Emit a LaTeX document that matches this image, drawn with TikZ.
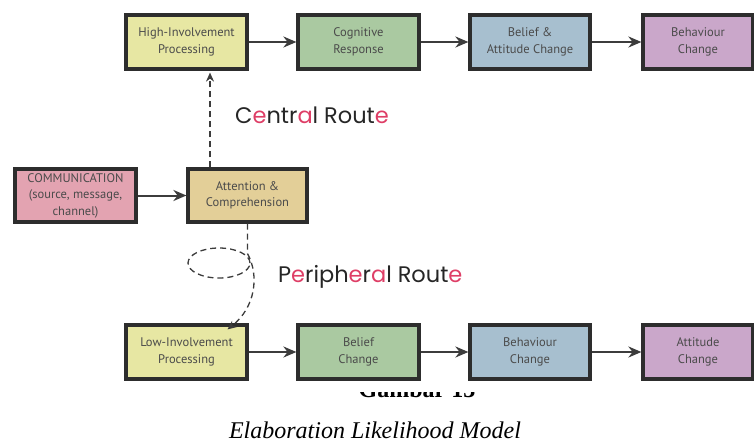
\documentclass[tikz,border=0pt]{standalone}
\usepackage{fontspec}
\setmainfont{PT Sans}
\newfontfamily\routefont{Poppins}
\newfontfamily\capfont{Liberation Serif}
\usetikzlibrary{arrows.meta}
\definecolor{boxline}{RGB}{45,45,45}
\definecolor{linegray}{RGB}{60,60,60}
\definecolor{textgray}{RGB}{75,75,75}
\definecolor{routepink}{RGB}{222,62,102}
\definecolor{hiyellow}{RGB}{231,231,163}
\definecolor{cogreen}{RGB}{170,201,161}
\definecolor{beblue}{RGB}{167,191,207}
\definecolor{bhpurple}{RGB}{202,167,202}
\definecolor{compink}{RGB}{227,163,177}
\definecolor{atttan}{RGB}{227,207,152}
\newcommand{\pk}[1]{\textcolor{routepink}{#1}}
\begin{document}
\begin{tikzpicture}[x=1pt,y=-1pt,>={Stealth[length=13pt,width=11pt]}]
    \tikzstyle{box}=[draw=boxline,line width=3.2pt,minimum width=121pt,minimum height=54pt,align=center,text=textgray,font=\fontsize{12.5}{16.5}\selectfont];
    \tikzstyle{link}=[draw=linegray,line width=2pt,->];
    \tikzstyle{dlink}=[draw=linegray,line width=1.3pt,dash pattern=on 6pt off 4pt,->,>={Stealth[length=9pt,width=8pt]}];
    \useasboundingbox (0,0) rectangle (754,445);

    % central route
    \node at (186.5, 42)  (hip) [box,fill=hiyellow] {High-Involvement\\Processing};
    \node at (358.5, 42)  (cog) [box,fill=cogreen] {Cognitive\\Response};
    \node at (530, 42)    (bac) [box,fill=beblue,minimum width=120pt] {Belief \&\\Attitude Change};
    \node at (698, 42)    (bhc) [box,fill=bhpurple,minimum width=110pt] {Behaviour\\Change};
    \draw[link] (hip) to (cog);
    \draw[link] (cog) to (bac);
    \draw[link] (bac) to (bhc);

    % start
    \node at (75.5, 195.5)  (com) [box,fill=compink,minimum height=53pt] {COMMUNICATION\\(source, message,\\channel)};
    \node at (247.5, 195.5) (att) [box,fill=atttan,minimum width=119pt,minimum height=53pt] {Attention \&\\Comprehension};
    \draw[link] (com) to (att);

    % peripheral route
    \node at (186.5, 352) (lip) [box,fill=hiyellow] {Low-Involvement\\Processing};
    \node at (358.5, 352) (bec) [box,fill=cogreen] {Belief\\Change};
    \node at (530, 352)   (bhv) [box,fill=beblue,minimum width=120pt] {Behaviour\\Change};
    \node at (698, 352)   (atc) [box,fill=bhpurple,minimum width=110pt] {Attitude\\Change};
    \draw[link] (lip) to (bec);
    \draw[link] (bec) to (bhv);
    \draw[link] (bhv) to (atc);

    % routes
    \draw[dlink] ([xshift=-37.5pt]att.north) to ([xshift=23.5pt,yshift=-2pt]hip.south);
    \draw[dlink] (att.south) -- ++(0,30) .. controls +(12,22) and +(28,-22) .. ([xshift=41pt,yshift=-6pt]lip.north);
    \draw[draw=linegray,line width=1.3pt,dash pattern=on 6pt off 4pt] (219,263) ellipse [x radius=31pt,y radius=15pt];
    \node[anchor=base west,inner sep=0pt,font=\routefont\fontsize{22.5}{26}\selectfont,text=black!85] at (235,123) (cen) {C\pk{e}ntr\pk{a}l Rout\pk{e}};
    \node[anchor=base west,inner sep=0pt,font=\routefont\fontsize{22.5}{26}\selectfont,text=black!85] at (278,282) (per) {P\pk{e}riph\pk{e}r\pk{a}l Rout\pk{e}};

    % caption
    \begin{scope}
    \clip (340,392) rectangle (500,398);
    \node[anchor=base,font=\capfont\bfseries\fontsize{24}{28}\selectfont] at (417,397) (gam) {Gambar 13};
    \end{scope}
    \node[anchor=base,font=\capfont\itshape\fontsize{24}{28}\selectfont] at (375,438) (elm) {Elaboration Likelihood Model};
\end{tikzpicture}
\end{document}
